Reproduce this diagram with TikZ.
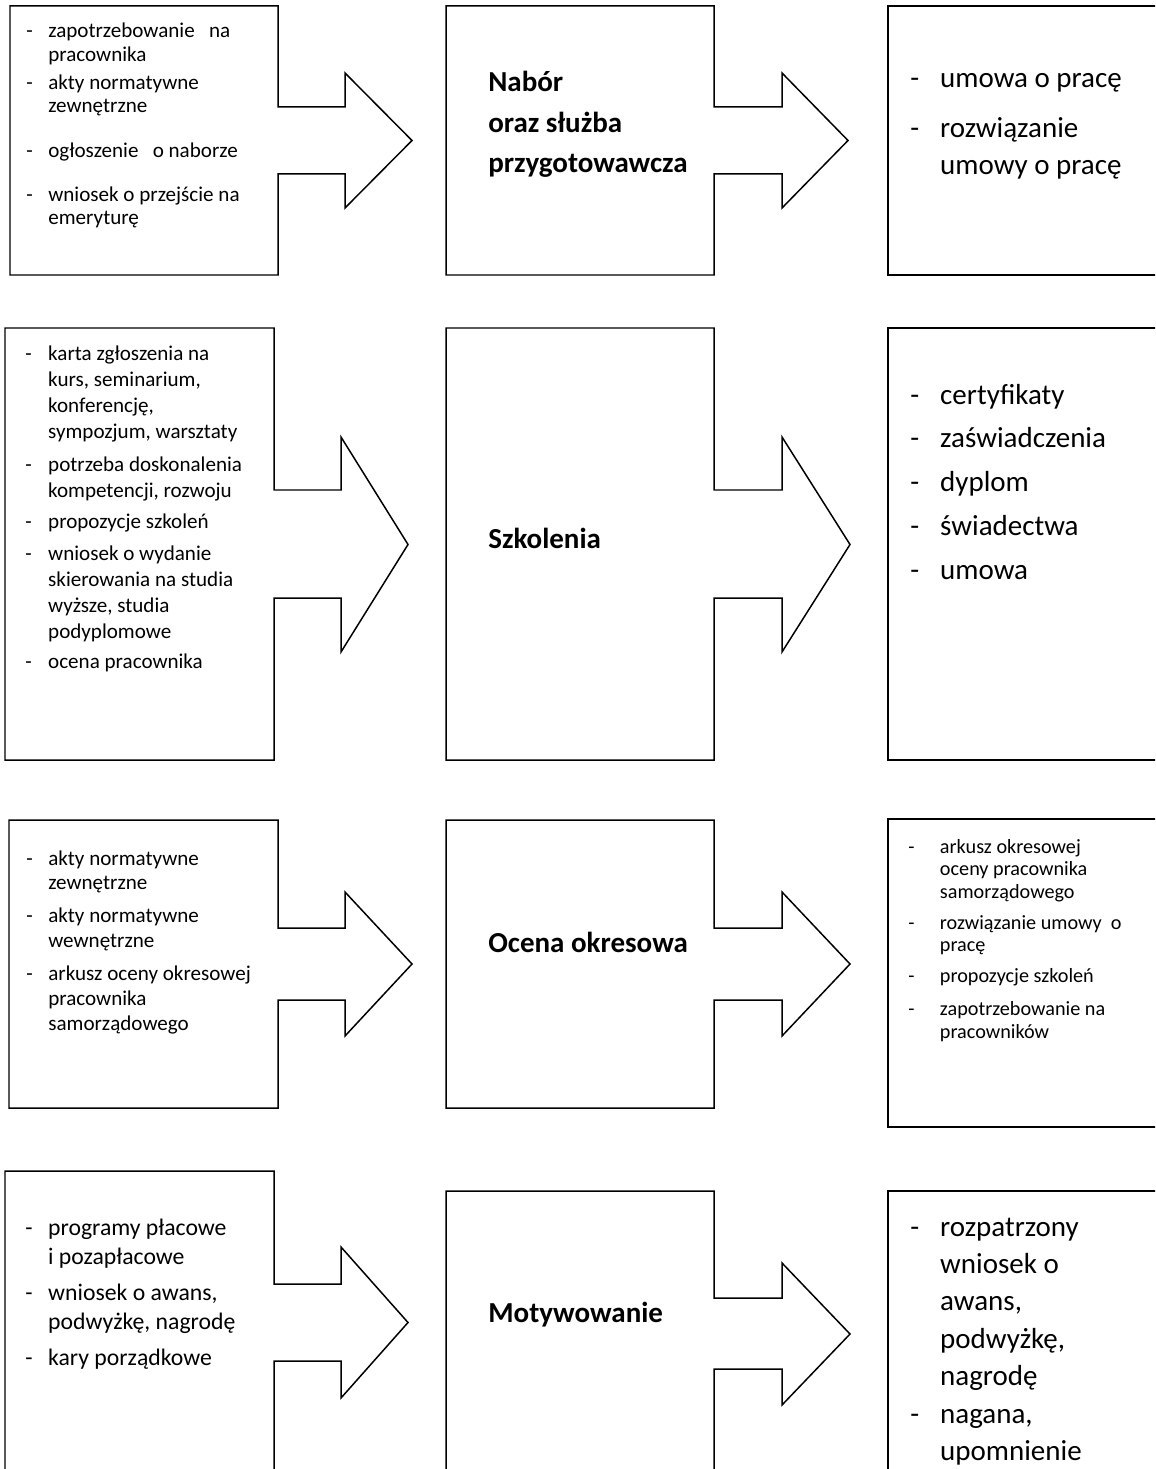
\documentclass[tikz,border=0pt]{standalone}
\usepackage{fontspec}
\setmainfont{Carlito}
\usepackage{tikz}
\definecolor{HrInk}{HTML}{000000}
\definecolor{HrLine}{HTML}{000000}

\begin{document}
\begin{tikzpicture}[x=0.02cm,y=-0.02cm,
    boxline/.style={draw=HrLine, line width=0.85pt, line join=miter},
    lst/.style={anchor=base west, inner sep=0pt, text=HrInk}]
  \useasboundingbox (0,0) rectangle (1155,1469);
  \clip (0,0) rectangle (1155,1469);
  % input and process boxes with their arrows
  \foreach \xL/\yT/\yB/\xR/\yS/\yZ/\xH/\yH/\yG/\xT in {
      10/6/275/278/107/174/345/73/208/412,
      446/6/275/714/107/174/782/73/208/848,
      5/328/760/274/490/598/341/437/652/408,
      446/328/760/714/490/598/782/437/652/850,
      9/820/1108/278/928/1000/345/892/1036/412,
      446/820/1108/714/928/1000/782/892/1036/850,
      5/1171/1490/274/1284/1361/341/1247/1398/408,
      446/1191/1490/714/1298/1369/782/1263/1405/850} {
    \draw[boxline] (\xL,\yT) -| (\xR,\yS) -| (\xH,\yH) -- (\xT,{(\yH+\yG)/2})
      -- (\xH,\yG) |- (\xR,\yZ) |- (\xL,\yB) -- cycle;
  }
  % output boxes, open to the right
  \foreach \yT/\yB in {6/275,328/760,819/1127,1191/1490} {
    \draw[boxline] (888,\yT) rectangle (1180,\yB);
  }

  % row 1
  \node[lst, font=\fontsize{12pt}{13.3pt}\selectfont] (in1) at (26,38) {\begin{tabular}[t]{@{}p{12.5pt}@{}l@{}}
    - & zapotrzebowanie\ \ \ na\\
      & pracownika\\[2.6pt]
    - & akty normatywne\\
      & zewnętrzne\\[12.2pt]
    - & ogłoszenie\ \ \ o naborze\\[11.7pt]
    - & wniosek o przejście na\\
      & emeryturę
  \end{tabular}};
  \node[lst, font=\fontsize{16.5pt}{23pt}\selectfont\bfseries] (proc1) at (488,92) {\begin{tabular}[t]{@{}l@{}}
    Nabór\\
    oraz służba\\
    przygotowawcza
  \end{tabular}};
  \node[lst, font=\fontsize{16.5pt}{21pt}\selectfont] (out1) at (910,88) {\begin{tabular}[t]{@{}p{17pt}@{}l@{}}
    - & umowa o pracę\\[7.4pt]
    - & rozwiązanie\\
      & umowy o pracę
  \end{tabular}};

  % row 2
  \node[lst, font=\fontsize{12pt}{14.7pt}\selectfont] (in2) at (25,361) {\begin{tabular}[t]{@{}p{13pt}@{}l@{}}
    - & karta zgłoszenia na\\
      & kurs, seminarium,\\
      & konferencję,\\
      & sympozjum, warsztaty\\[4pt]
    - & potrzeba doskonalenia\\
      & kompetencji, rozwoju\\[3.4pt]
    - & propozycje szkoleń\\[3.4pt]
    - & wniosek o wydanie\\
      & skierowania na studia\\
      & wyższe, studia\\
      & podyplomowe\\[2.8pt]
    - & ocena pracownika
  \end{tabular}};
  \node[lst, font=\fontsize{16.5pt}{20pt}\selectfont\bfseries] (proc2) at (488,548) {Szkolenia};
  \node[lst, font=\fontsize{16.5pt}{25pt}\selectfont] (out2) at (910,404) {\begin{tabular}[t]{@{}p{17pt}@{}l@{}}
    - & certyfikaty\\
    - & zaświadczenia\\
    - & dyplom\\
    - & świadectwa\\
    - & umowa
  \end{tabular}};

  % row 3
  \node[lst, font=\fontsize{12pt}{14.2pt}\selectfont] (in3) at (26,865) {\begin{tabular}[t]{@{}p{12.5pt}@{}l@{}}
    - & akty normatywne\\
      & zewnętrzne\\[4.5pt]
    - & akty normatywne\\
      & wewnętrzne\\[4.5pt]
    - & arkusz oceny okresowej\\
      & pracownika\\
      & samorządowego
  \end{tabular}};
  \node[lst, font=\fontsize{16.5pt}{20pt}\selectfont\bfseries] (proc3) at (488,952) {Ocena okresowa};
  \node[lst, font=\fontsize{11.5pt}{12.9pt}\selectfont] (out3) at (908,853) {\begin{tabular}[t]{@{}p{18pt}@{}l@{}}
    - & arkusz okresowej\\
      & oceny pracownika\\
      & samorządowego\\[4.7pt]
    - & rozwiązanie umowy\ \ o\\
      & pracę\\[4.7pt]
    - & propozycje szkoleń\\[5.9pt]
    - & zapotrzebowanie na\\
      & pracowników
  \end{tabular}};

  % row 4
  \node[lst, font=\fontsize{13.5pt}{16.7pt}\selectfont] (in4) at (25,1235) {\begin{tabular}[t]{@{}p{13pt}@{}l@{}}
    - & programy płacowe\\
      & i pozapłacowe\\[3.7pt]
    - & wniosek o awans,\\
      & podwyżkę, nagrodę\\[3.7pt]
    - & kary porządkowe
  \end{tabular}};
  \node[lst, font=\fontsize{16.5pt}{20pt}\selectfont\bfseries] (proc4) at (488,1322) {Motywowanie};
  \node[lst, font=\fontsize{16.5pt}{21.3pt}\selectfont] (out4) at (910,1236) {\begin{tabular}[t]{@{}p{17pt}@{}l@{}}
    - & rozpatrzony\\
      & wniosek o\\
      & awans,\\
      & podwyżkę,\\
      & nagrodę\\
    - & nagana,\\
      & upomnienie
  \end{tabular}};
\end{tikzpicture}
\end{document}
